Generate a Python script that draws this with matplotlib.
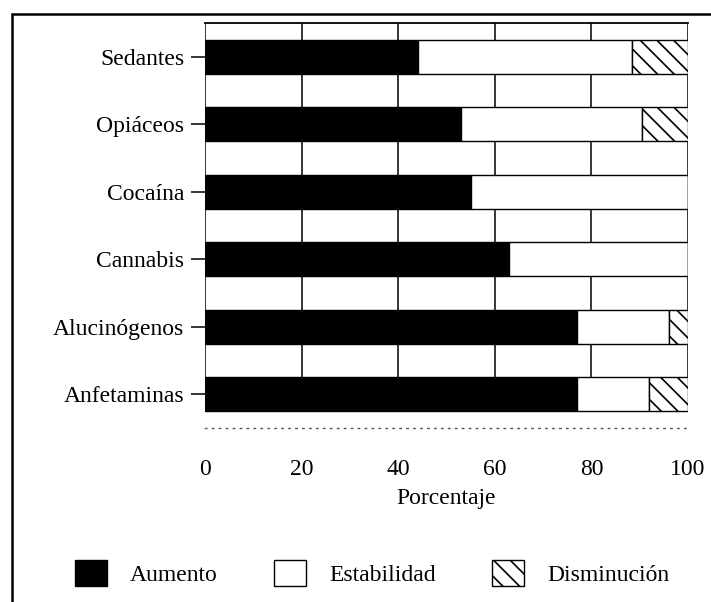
import numpy as np
import matplotlib.pyplot as plt
from matplotlib.patches import Rectangle

# Datos (porcentaje)
drogas = ["Anfetaminas", "Alucinógenos", "Cannabis", "Cocaína", "Opiáceos", "Sedantes"]
aumento = [77, 77, 63, 55, 53, 44]
estabilidad = [15, 19, 37, 45, 37.5, 44.5]
disminucion = [8, 4, 0, 0, 9.5, 11.5]
xticks = [0, 20, 40, 60, 80, 100]

plt.rcParams["font.family"] = ["Liberation Serif", "DejaVu Serif"]
plt.rcParams["hatch.linewidth"] = 1.2

fig = plt.figure(figsize=(7.11, 6.02), dpi=100)
ax = fig.add_axes([0.2883, 0.289, 0.6794, 0.6728])

y = np.arange(len(drogas))
h = 0.5
aum = np.array(aumento)
est = np.array(estabilidad)
dis = np.array(disminucion)

# Líneas de rejilla verticales (solo hasta el borde inferior de la última barra)
ax.vlines(xticks, y[0] - h / 2, y[-1] + 0.5, colors="black", linewidth=1.1, zorder=1)

ax.barh(y, aum, height=h, color="black", edgecolor="black", linewidth=1, zorder=2, label="Aumento")
ax.barh(y, est, left=aum, height=h, color="white", edgecolor="black", linewidth=1, zorder=2,
        label="Estabilidad")
ax.barh(y, dis, left=aum + est, height=h, color="white", edgecolor="black", linewidth=1,
        hatch="\\\\", zorder=2, label="Disminución")

ax.set_xlim(0, 100)
ax.set_ylim(-0.5, len(drogas) - 0.5)
ax.set_yticks(y)
ax.set_yticklabels(drogas, fontsize=17)
ax.set_xticks(xticks)
ax.set_xticklabels([str(t) for t in xticks], fontsize=17)
ax.tick_params(axis="y", length=10, width=1.1, pad=5)
ax.tick_params(axis="x", length=0, pad=22)
ax.set_xlabel("Porcentaje", fontsize=17, labelpad=6)

for s in ["left", "right"]:
    ax.spines[s].set_visible(False)
ax.spines["top"].set_linewidth(1.3)
ax.spines["bottom"].set_linestyle((0, (1, 4)))
ax.spines["bottom"].set_linewidth(1)
ax.spines["bottom"].set_color("#555555")

leg = fig.legend(loc="center left", bbox_to_anchor=(75 / 711, 0.048), ncol=3, frameon=False,
                 fontsize=17, handlelength=1.35, handleheight=1.35, handletextpad=0.97,
                 columnspacing=2.4, borderpad=0, borderaxespad=0)

# Marco exterior
fig.patches.append(Rectangle((12 / 711, -0.05), 1.1, 1 - 14 / 602 + 0.05,
                             transform=fig.transFigure, fill=False, edgecolor="black",
                             linewidth=1.8))

fig.savefig("out.png", dpi=100)
